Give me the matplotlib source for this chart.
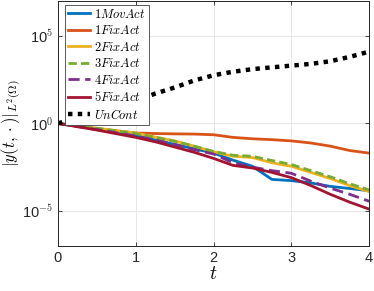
import numpy as np
import matplotlib
matplotlib.use('Agg')
import matplotlib.pyplot as plt
from matplotlib.ticker import FixedLocator, FixedFormatter, NullLocator

# ---------------------------------------------------------------------------
# values (log10 of the norm)
t = [0, 0.5, 1, 1.25, 1.5, 1.75, 2, 2.25, 2.5, 2.75, 3, 3.25, 3.5, 3.75, 4]

mov1 = [0, -0.33, -0.70, -0.95, -1.20, -1.45, -1.70, -2.10, -2.45, -3.20, -3.27, -3.40, -3.60, -3.72, -3.85]
fix1 = [0, -0.30, -0.55, -0.58, -0.60, -0.61, -0.65, -0.80, -0.88, -0.93, -1.00, -1.12, -1.30, -1.55, -1.70]
fix2 = [0, -0.28, -0.55, -0.78, -1.00, -1.30, -1.62, -1.88, -1.95, -2.25, -2.45, -2.80, -3.15, -3.55, -3.90]
fix3 = [0, -0.28, -0.58, -0.80, -1.02, -1.30, -1.60, -1.82, -1.88, -2.12, -2.35, -2.70, -3.05, -3.45, -3.80]
fix4 = [0, -0.35, -0.72, -0.95, -1.20, -1.50, -1.75, -2.25, -2.50, -2.70, -2.85, -3.30, -3.70, -4.05, -4.45]
fix5 = [0, -0.38, -0.80, -1.05, -1.35, -1.65, -2.00, -2.40, -2.55, -2.80, -3.10, -3.55, -4.05, -4.50, -4.90]
uncont = [0, 0.65, 1.30, 1.70, 2.05, 2.45, 2.75, 2.95, 3.10, 3.20, 3.30, 3.40, 3.55, 3.80, 4.10]

labels = ['1MovAct', '1FixAct', '2FixAct', '3FixAct', '4FixAct', '5FixAct', 'UnCont']
yticks = [1e-5, 1e0, 1e5]
ytick_labels = ['10$^{-5}$', '10$^{0}$', '10$^{5}$']
xticks = [0, 1, 2, 3, 4]
# ---------------------------------------------------------------------------

plt.rcParams['font.family'] = 'Liberation Sans'
plt.rcParams['mathtext.fontset'] = 'cm'

fig = plt.figure(figsize=(3.74, 2.91), dpi=100)
ax = fig.add_axes([0.155, 0.155, 0.832, 0.842])

series = [mov1, fix1, fix2, fix3, fix4, fix5, uncont]
styles = [
    dict(color='#0072BD', ls='-'),
    dict(color='#D95319', ls='-'),
    dict(color='#EDB120', ls='-'),
    dict(color='#77AC30', ls=(0, (3, 1.5))),
    dict(color='#7E2F8E', ls=(0, (4, 2))),
    dict(color='#A2142F', ls='-'),
    dict(color='black', ls=(0, (1, 1.2)), lw=3.2),
]
for vals, lab, st in zip(series, labels, styles):
    lw = st.pop('lw', 2.0)
    ax.plot(t, 10.0 ** np.array(vals), lw=lw, label=rf'${lab}$', **st)

ax.set_yscale('log')
ax.set_xlim(0, 4)
ax.set_ylim(1e-7, 1e7)
ax.yaxis.set_major_locator(FixedLocator(yticks))
ax.yaxis.set_major_formatter(FixedFormatter(ytick_labels))
ax.yaxis.set_minor_locator(NullLocator())
ax.set_xticks(xticks)
ax.tick_params(direction='in', labelsize=10.5, length=3, width=0.6,
               top=True, right=True, colors='#262626')
for sp in ax.spines.values():
    sp.set_color('#262626')
    sp.set_linewidth(0.7)
ax.grid(True, color='#e6e6e6', lw=0.7)
ax.set_axisbelow(True)

ax.set_xlabel(r'$t$', fontsize=14, labelpad=1)
ax.set_ylabel(r'$|y(t,\cdot)|_{L^2(\Omega)}$', fontsize=12, labelpad=-1)

leg = ax.legend(loc='upper left', bbox_to_anchor=(0.022, 0.985), fontsize=9,
                fancybox=False, framealpha=1, edgecolor='#404040',
                handlelength=1.8, handletextpad=0.3, labelspacing=0.28,
                borderpad=0.25, borderaxespad=0)
leg.get_frame().set_linewidth(0.6)

fig.savefig('out.png', dpi=100)
